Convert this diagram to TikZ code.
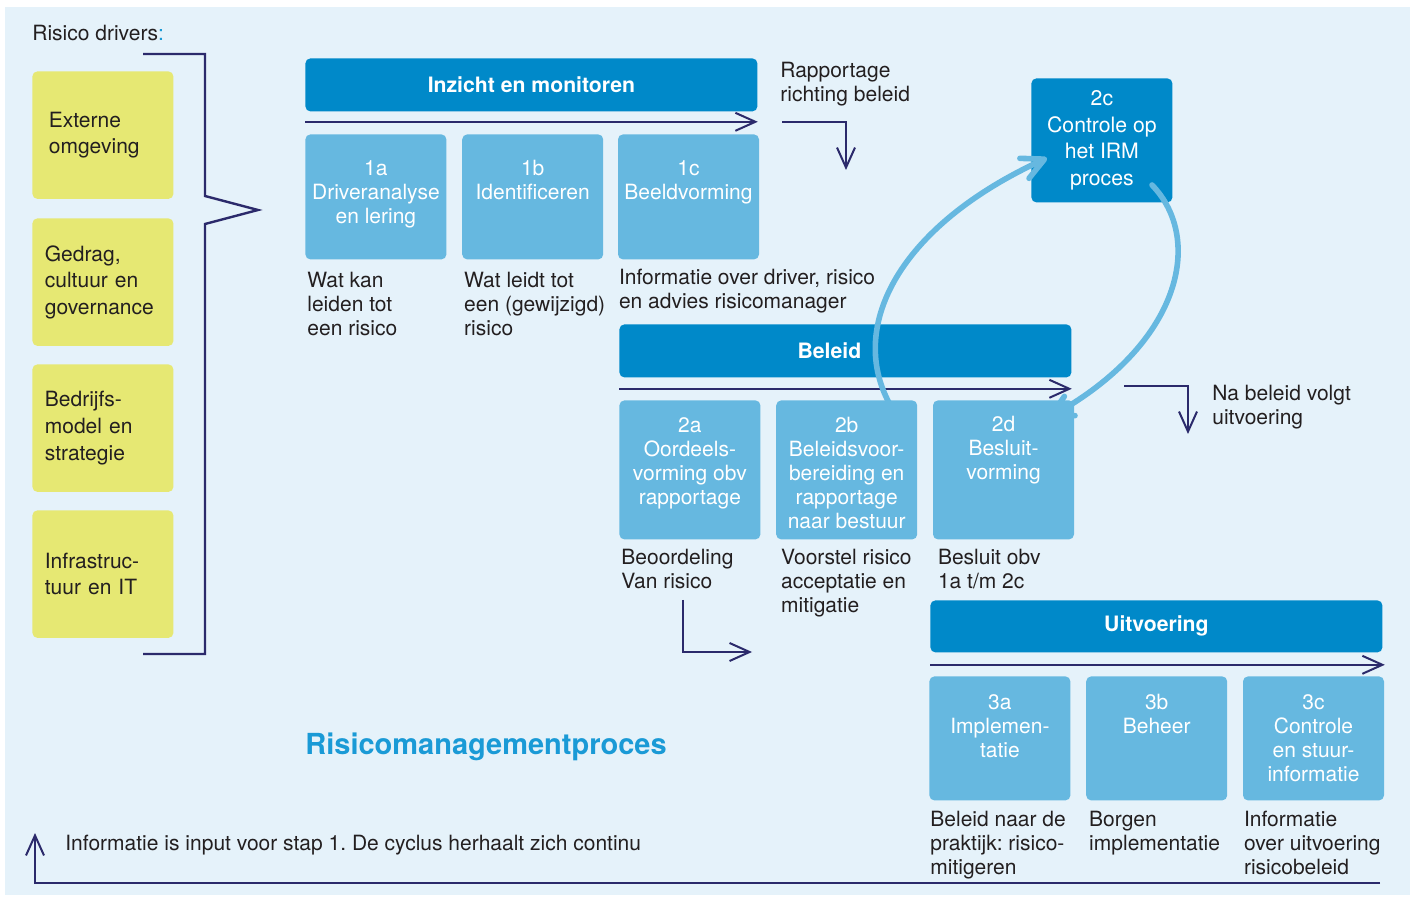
\documentclass[tikz,border=0pt]{standalone}
\usepackage{fontspec}
\setmainfont{TeX Gyre Heros}
\usepackage{xcolor}
\usetikzlibrary{arrows.meta,positioning}
\definecolor{bgblue}{HTML}{E5F2FA}
\definecolor{drvyellow}{HTML}{E6E873}
\definecolor{phaseblue}{HTML}{0089C9}
\definecolor{stepblue}{HTML}{66B8E0}
\definecolor{navy}{HTML}{2B2A6B}
\definecolor{titlecyan}{HTML}{1A9AD6}
\definecolor{txtgray}{HTML}{231F20}
\frenchspacing
\begin{document}
\begin{tikzpicture}[x=0.5pt, y=-0.5pt,
    font=\fontsize{10.5}{12}\selectfont, text=txtgray,
    drvbox/.style={rectangle, rounded corners=2.5pt, fill=drvyellow, anchor=north west,
      minimum width=70.5pt, minimum height=63.75pt, align=left, text width=58pt,
      font=\fontsize{10.5}{13.3}\selectfont},
    phasebox/.style={rectangle, rounded corners=2.5pt, fill=phaseblue, anchor=north west,
      minimum width=226pt, minimum height=26.5pt, text=white,
      font=\bfseries\fontsize{10.6}{12}\selectfont},
    phaselabel/.style={text=white, inner sep=0pt, font=\bfseries\fontsize{10.6}{12}\selectfont},
    stepbox/.style={rectangle, rounded corners=2.5pt, fill=stepblue,
      minimum width=70.5pt, minimum height=62.5pt},
    steptext/.style={text=white, align=center, inner sep=0pt},
    desc/.style={align=left, inner sep=0pt},
    flow/.style={draw=navy, line width=1pt, -{Straight Barb[length=10pt,width=9pt]}},
    bracket/.style={draw=navy, line width=1.2pt, line join=miter},
    curvearrow/.style={draw=stepblue, line width=2.8pt, line cap=round,
      -{Straight Barb[length=11pt,width=11pt,round]}}]

    \useasboundingbox (0,0) rectangle (1415,898);
    \fill[bgblue] (5,7) rectangle (1410,895);

    % risico drivers
    \node[desc, anchor=north west] (drvtitle) at (32,25)
    {Risico drivers\textcolor{titlecyan}{:}};
    \node[drvbox, text width=54pt] (drv1) at (32,71) {Externe\\omgeving};
    \node[drvbox] (drv2) at (32,218) {Gedrag,\\cultuur en\\governance};
    \node[drvbox] (drv3) at (32,364) {Bedrijfs-\\model en\\strategie};
    \node[drvbox] (drv4) at (32,510) {Infrastruc-\\tuur en IT};

    \coordinate (brk1) at (143,54);
    \coordinate (brk2) at (205,196);
    \coordinate (brktip) at (258,210);
    \coordinate (brk3) at (205,224);
    \coordinate (brk4) at (143,654);
    \draw[bracket] (brk1) -| (brk2) -- (brktip) -- (brk3) |- (brk4);

    % inzicht en monitoren
    \node[phasebox] (inzicht) at (305,58) {Inzicht en monitoren};
    \coordinate[below=5pt of inzicht.south west] (inz1);
    \coordinate[below=5pt of inzicht.south east] (inz2);
    \draw[flow] (inz1) -- (inz2);

    \node[stepbox, anchor=north west] (box1a) at (305,134) {};
    \node[stepbox, right=7.5pt of box1a] (box1b) {};
    \node[stepbox, right=7pt of box1b] (box1c) {};
    \node[steptext, below=13pt of box1a.north] (lab1a) {1a\\Driveranalyse\\en lering};
    \node[steptext, below=13pt of box1b.north] (lab1b) {1b\\Identificeren};
    \node[steptext, below=13pt of box1c.north] (lab1c) {1c\\Beeldvorming};

    \node[desc, below right=6pt and 1pt of box1a.south west] (desc1a)
    {Wat kan\\leiden tot\\een risico};
    \node[desc, below right=6pt and 1pt of box1b.south west] (desc1b)
    {Wat leidt tot\\een (gewijzigd)\\risico};
    \node[desc, below right=4.5pt and 0.5pt of box1c.south west] (desc1c)
    {Informatie over driver, risico\\en advies risicomanager};

    \node[desc, anchor=north west] (raptext) at (780,62) {Rapportage\\richting beleid};
    \coordinate (rap1) at (782,122);
    \coordinate (rap2) at (846,170);
    \draw[flow] (rap1) -| (rap2);

    % controle op het IRM proces
    \node[stepbox, fill=phaseblue, anchor=north west, minimum height=62pt] (box2c) at (1031,78) {};
    \node[steptext, below=6pt of box2c.north, font=\fontsize{10.6}{13.3}\selectfont] (lab2c)
    {2c\\Controle op\\het IRM\\proces};

    % beleid
    \node[phasebox] (beleid) at (619,324) {};
    \node[phaselabel, xshift=-8pt] (beleidlab) at (beleid.center) {Beleid};
    \coordinate[below=5.5pt of beleid.south west] (bel1);
    \coordinate[below=5.5pt of beleid.south east] (bel2);
    \draw[flow] (bel1) -- (bel2);

    \node[stepbox, anchor=north west, minimum height=69.5pt] (box2a) at (619,400) {};
    \node[stepbox, right=7.5pt of box2a, minimum height=69.5pt] (box2b) {};
    \node[stepbox, right=7.5pt of box2b, minimum height=69.5pt] (box2d) {};
    \node[steptext, below=8.5pt of box2a.north] (lab2a) {2a\\Oordeels-\\vorming obv\\rapportage};
    \node[steptext, below=8.5pt of box2b.north] (lab2b)
    {2b\\Beleidsvoor-\\bereiding en\\rapportage\\naar bestuur};
    \node[steptext, below=8pt of box2d.north] (lab2d) {2d\\Besluit-\\vorming};

    \node[desc, below right=4.5pt and 1pt of box2a.south west] (desc2a) {Beoordeling\\Van risico};
    \node[desc, below right=4.5pt and 2.5pt of box2b.south west] (desc2b)
    {Voorstel risico\\acceptatie en\\mitigatie};
    \node[desc, below right=4.5pt and 2.5pt of box2d.south west] (desc2d) {Besluit obv\\1a t/m 2c};

    \node[desc, anchor=north west] (natext) at (1212,385) {Na beleid volgt\\uitvoering};
    \coordinate (na1) at (1124,386);
    \coordinate (na2) at (1188,434);
    \draw[flow] (na1) -| (na2);

    \coordinate (beo1) at (683,600);
    \coordinate (beo2) at (752,652);
    \draw[flow] (beo1) |- (beo2);

    % uitvoering
    \node[phasebox, minimum height=26pt] (uitvoering) at (930,600) {Uitvoering};
    \coordinate[below=6pt of uitvoering.south west] (uit1);
    \coordinate[below=6pt of uitvoering.south east] (uit2);
    \draw[flow] (uit1) -- ([xshift=1pt]uit2);

    \node[stepbox, anchor=north west, minimum height=62pt] (box3a) at (929,676) {};
    \node[stepbox, right=7.5pt of box3a, minimum height=62pt] (box3b) {};
    \node[stepbox, right=7.5pt of box3b, minimum height=62pt] (box3c) {};
    \node[steptext, below=9pt of box3a.north] (lab3a) {3a\\Implemen-\\tatie};
    \node[steptext, below=9pt of box3b.north] (lab3b) {3b\\Beheer};
    \node[steptext, below=9pt of box3c.north] (lab3c) {3c\\Controle\\en stuur-\\informatie};

    \node[desc, below right=5pt and 0.5pt of box3a.south west] (desc3a)
    {Beleid naar de\\praktijk: risico-\\mitigeren};
    \node[desc, below right=5pt and 1.5pt of box3b.south west] (desc3b) {Borgen\\implementatie};
    \node[desc, below right=5pt and 0.5pt of box3c.south west] (desc3c)
    {Informatie\\over uitvoering\\risicobeleid};

    \node[anchor=west, inner sep=0pt, text=titlecyan, font=\bfseries\fontsize{14.5}{17}\selectfont]
    (proctitle) at (305,747) {Risicomanagementproces};

    % cyclus
    \node[anchor=west, inner sep=0pt] (cyctext) at (65,845)
    {Informatie is input voor stap 1. De cyclus herhaalt zich continu};
    \coordinate (cyc1) at (1380,883);
    \coordinate (cyc2) at (35,833);
    \draw[flow] (cyc1) -| (cyc2);

    % terugkoppeling via 2c
    \coordinate (crvAs) at (900,420);
    \coordinate (crvAe) at (1047,158);
    \coordinate (crvBs) at (1152,185);
    \coordinate (crvBe) at (1048,418);
    \draw[curvearrow] (crvAs) .. controls (840,340) and (890,230) .. (crvAe);
    \draw[curvearrow] (crvBs) .. controls (1205,240) and (1180,345) .. (crvBe);

  \end{tikzpicture}
\end{document}
